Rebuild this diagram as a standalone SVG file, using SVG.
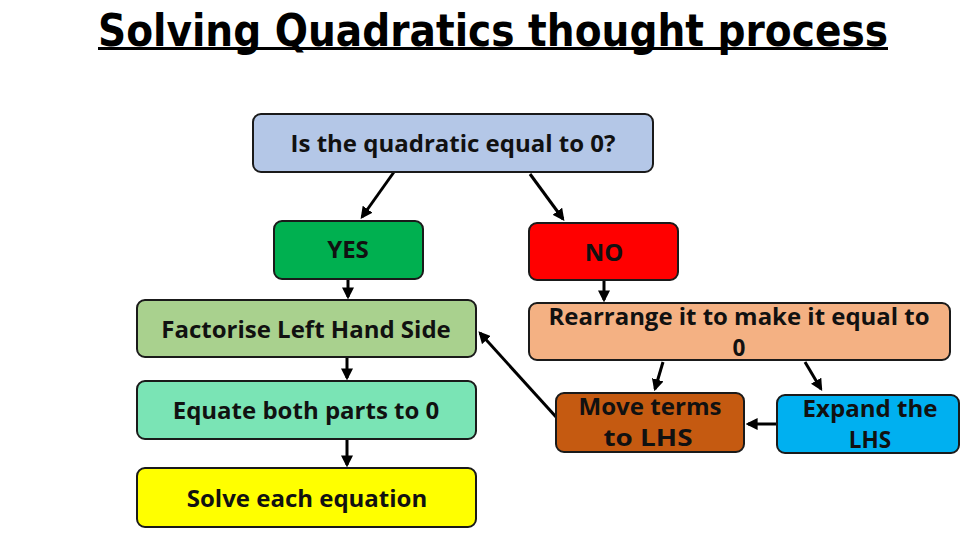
<svg xmlns="http://www.w3.org/2000/svg" width="960" height="540" viewBox="0 0 960 540">
<defs>
<style>
.box{stroke:#1a1a1a;stroke-width:2}
.t{font-family:"Open Sans","Noto Sans","DejaVu Sans",sans-serif;font-weight:bold;font-size:24px;fill:#111;text-anchor:middle}
.t2{font-size:22.5px}
.c{stroke:#000;stroke-width:3;fill:none;marker-end:url(#ah)}
</style>
<marker id="ah" markerWidth="4" markerHeight="4" refX="3.2" refY="2" orient="auto" markerUnits="strokeWidth">
<path d="M0,0 L4,2 L0,4 z" fill="#000"/>
</marker>
</defs>
<rect width="960" height="540" fill="#fff"/>
<g id="title">
<text x="493" y="46" font-family="'DejaVu Sans Condensed','Open Sans','Noto Sans',sans-serif" font-weight="bold" font-size="45" fill="#000" text-anchor="middle" textLength="790" lengthAdjust="spacingAndGlyphs">Solving Quadratics thought process</text>
<rect x="98" y="47" width="790" height="3" fill="#000"/>
</g>
<g id="connectors">
<line class="c" x1="394" y1="172" x2="362" y2="217"/>
<line class="c" x1="530" y1="174" x2="563" y2="219"/>
<line class="c" x1="348" y1="279" x2="348" y2="297"/>
<line class="c" x1="347" y1="357" x2="347" y2="378"/>
<line class="c" x1="347" y1="439" x2="347" y2="465"/>
<line class="c" x1="604" y1="280" x2="604" y2="300"/>
<line class="c" x1="663" y1="362" x2="655" y2="389"/>
<line class="c" x1="805" y1="362" x2="821" y2="389"/>
<line class="c" x1="777" y1="424" x2="748" y2="424"/>
<line class="c" x1="557" y1="418" x2="480" y2="333"/>
</g>
<g id="n-question">
<rect class="box" x="253" y="114" width="400" height="58" rx="8" fill="#B4C7E7"/>
<text class="t" x="453" y="152">Is the quadratic equal to 0?</text>
</g>
<g id="n-yes">
<rect class="box" x="274" y="221" width="149" height="58" rx="8" fill="#00B050"/>
<text class="t" x="348" y="258">YES</text>
</g>
<g id="n-no">
<rect class="box" x="529" y="223" width="149" height="57" rx="8" fill="#FF0000"/>
<text class="t" x="604" y="261">NO</text>
</g>
<g id="n-factorise">
<rect class="box" x="137" y="300" width="339" height="57" rx="8" fill="#A9D18E"/>
<text class="t" x="306" y="338">Factorise Left Hand Side</text>
</g>
<g id="n-equate">
<rect class="box" x="137" y="381" width="339" height="58" rx="8" fill="#7AE4B5"/>
<text class="t" x="306" y="419">Equate both parts to 0</text>
</g>
<g id="n-solve">
<rect class="box" x="137" y="468" width="339" height="59" rx="8" fill="#FFFF00"/>
<text class="t" x="307" y="507">Solve each equation</text>
</g>
<g id="n-rearrange">
<rect class="box" x="529" y="303" width="421" height="57" rx="8" fill="#F4B183"/>
<text class="t t2" x="739" y="325" textLength="381" lengthAdjust="spacingAndGlyphs">Rearrange it to make it equal to</text>
<text class="t t2" x="739" y="356">0</text>
</g>
<g id="n-move">
<rect class="box" x="556" y="393" width="188" height="59" rx="8" fill="#C55A11"/>
<text class="t t2" x="650" y="415" textLength="143" lengthAdjust="spacingAndGlyphs">Move terms</text>
<text class="t t2" x="648" y="446" textLength="89" lengthAdjust="spacingAndGlyphs">to LHS</text>
</g>
<g id="n-expand">
<rect class="box" x="777" y="395" width="182" height="58" rx="8" fill="#00B0F0"/>
<text class="t t2" x="870" y="417" textLength="135" lengthAdjust="spacingAndGlyphs">Expand the</text>
<text class="t t2" x="870" y="448">LHS</text>
</g>
</svg>
